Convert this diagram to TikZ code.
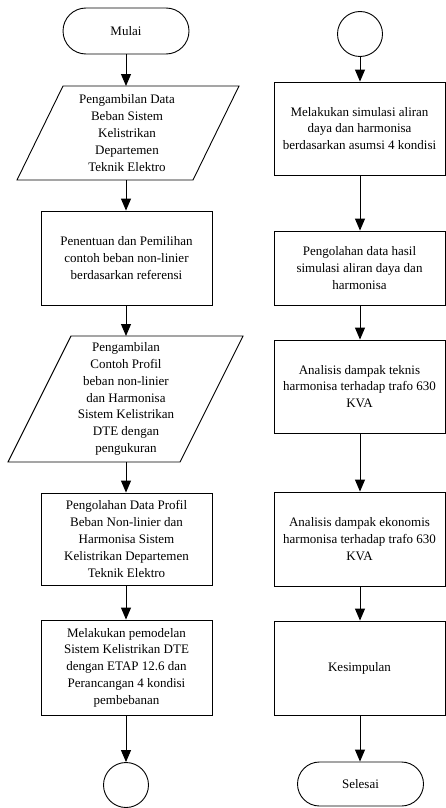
\documentclass[tikz,border=0pt]{standalone}
\usepackage{fontspec}
\setmainfont{Liberation Serif}
\usetikzlibrary{arrows.meta,shapes.misc,calc}
\tikzset{
  base/.style={font=\fontsize{13}{16.8}\selectfont, align=center, line width=0.9pt, inner sep=0pt},
  procbox/.style={base, draw, minimum width=171pt},
  term/.style={base, draw, rounded rectangle, minimum width=126pt, minimum height=46pt},
  conn/.style={base, draw, circle, minimum size=45pt},
  iobox/.style={base, minimum height=#1},
  flow/.style={line width=1pt, -{Triangle[length=12pt,width=10pt]}},
  pgram/.style={line width=0.9pt, line join=miter}
}
\begin{document}
\begin{tikzpicture}[x=1pt,y=-1pt]
\useasboundingbox (0,0) rectangle (446,808);
% left column
\node[term] (mulai) at (126,31) {Mulai};
\node[iobox=94pt] (io1) at (127,133) {Pengambilan Data\\Beban Sistem\\Kelistrikan\\Departemen\\Teknik Elektro};
\draw[pgram] (63,86) -- (239,86) -- (193,180) -- (17,180) -- cycle;
\node[procbox, minimum height=94pt] (p2) at (126.5,258) {Penentuan dan Pemilihan\\contoh beban non-linier\\berdasarkan referensi};
\node[iobox=126pt] (io2) at (126,399) {Pengambilan\\Contoh Profil\\beban non-linier\\dan Harmonisa\\Sistem Kelistrikan\\DTE dengan\\pengukuran};
\draw[pgram] (71,336) -- (243,336) -- (180,462) -- (8,462) -- cycle;
\node[procbox, minimum height=92pt] (p3) at (126.5,539) {Pengolahan Data Profil\\Beban Non-linier dan\\Harmonisa Sistem\\Kelistrikan Departemen\\Teknik Elektro};
\node[procbox, minimum height=95pt] (p4) at (126.5,667.5) {Melakukan pemodelan\\Sistem Kelistrikan DTE\\dengan ETAP 12.6 dan\\Perancangan 4 kondisi\\pembebanan};
\node[conn] (c1) at (126,785) {};
\draw[flow] (mulai) -- (126,86);
\draw[flow] (126,180) -- (p2.north -| 126,0);
\draw[flow] (p2.south -| 126,0) -- (126,336);
\draw[flow] (126,462) -- (p3.north -| 126,0);
\draw[flow] (p3.south -| 126,0) -- (p4.north -| 126,0);
\draw[flow] (p4.south -| 126,0) -- (c1.north);
% right column
\node[conn] (c2) at (360,34) {};
\node[procbox, minimum height=93pt] (r1) at (359.5,128.5) {Melakukan simulasi aliran\\daya dan harmonisa\\berdasarkan asumsi 4 kondisi};
\node[procbox, minimum height=74pt] (r2) at (359.5,268) {Pengolahan data hasil\\simulasi aliran daya dan\\harmonisa};
\node[procbox, minimum height=93pt] (r3) at (359.5,386.5) {Analisis dampak teknis\\harmonisa terhadap trafo 630\\KVA};
\node[procbox, minimum height=94pt] (r4) at (359.5,539) {Analisis dampak ekonomis\\harmonisa terhadap trafo 630\\KVA};
\node[procbox, minimum height=94pt] (r5) at (359.5,668) {Kesimpulan};
\node[term, minimum height=44pt] (selesai) at (360.5,784) {Selesai};
\draw[flow] (c2) -- (r1.north -| c2);
\draw[flow] (r1.south -| c2) -- (r2.north -| c2);
\draw[flow] (r2.south -| c2) -- (r3.north -| c2);
\draw[flow] (r3.south -| c2) -- (r4.north -| c2);
\draw[flow] (r4.south -| c2) -- (r5.north -| c2);
\draw[flow] (r5.south -| c2) -- (selesai.north -| c2);
\end{tikzpicture}
\end{document}
